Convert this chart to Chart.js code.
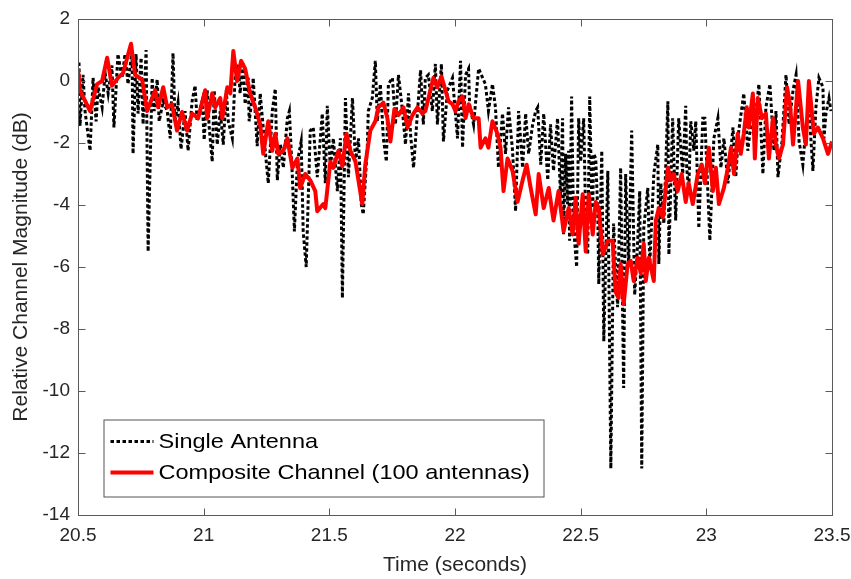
<!DOCTYPE html>
<html>
<head>
<meta charset="utf-8">
<script src="https://cdn.jsdelivr.net/npm/chart.js@4.4.1/dist/chart.umd.min.js"></script>
<style>
  html, body { margin: 0; padding: 0; background: #fff; }
  #wrap { width: 851px; height: 579px; }
</style>
</head>
<body>
<div id="wrap"><canvas id="chan" width="851" height="579"></canvas></div>
<script>
// time axis (s) and relative magnitude (dB)
var singleT = [
  20.504, 20.508, 20.520, 20.528, 20.548, 20.560, 20.572, 20.580, 20.596, 20.608,
  20.620, 20.635, 20.643, 20.659, 20.675, 20.687, 20.699, 20.715, 20.719, 20.731,
  20.739, 20.751, 20.759, 20.771, 20.779, 20.795, 20.803, 20.815, 20.823, 20.839,
  20.855, 20.867, 20.878, 20.886, 20.898, 20.910, 20.926, 20.938, 20.954, 20.966,
  20.974, 20.994, 21.002, 21.014, 21.022, 21.034, 21.042, 21.054, 21.066, 21.078,
  21.090, 21.098, 21.114, 21.125, 21.137, 21.145, 21.157, 21.165, 21.177, 21.181,
  21.193, 21.197, 21.213, 21.225, 21.245, 21.257, 21.273, 21.285, 21.293, 21.305,
  21.317, 21.333, 21.341, 21.353, 21.361, 21.373, 21.388, 21.396, 21.408, 21.424,
  21.436, 21.452, 21.472, 21.484, 21.492, 21.504, 21.516, 21.532, 21.544, 21.552,
  21.564, 21.576, 21.592, 21.604, 21.616, 21.627, 21.635, 21.651, 21.655, 21.671,
  21.683, 21.691, 21.703, 21.715, 21.727, 21.735, 21.751, 21.763, 21.775, 21.791,
  21.803, 21.815, 21.823, 21.835, 21.851, 21.863, 21.874, 21.882, 21.894, 21.910,
  21.922, 21.930, 21.946, 21.954, 21.970, 21.990, 22.010, 22.022, 22.030, 22.042,
  22.054, 22.058, 22.074, 22.094, 22.110, 22.121, 22.133, 22.149, 22.161, 22.173,
  22.189, 22.201, 22.213, 22.229, 22.241, 22.253, 22.269, 22.281, 22.293, 22.309,
  22.321, 22.329, 22.341, 22.353, 22.369, 22.380, 22.392, 22.408, 22.420, 22.428,
  22.432, 22.440, 22.448, 22.452, 22.456, 22.464, 22.472, 22.484, 22.492, 22.500,
  22.512, 22.520, 22.528, 22.536, 22.544, 22.548, 22.552, 22.560, 22.568, 22.572,
  22.584, 22.592, 22.608, 22.620, 22.631, 22.647, 22.659, 22.671, 22.679, 22.691,
  22.703, 22.715, 22.727, 22.735, 22.743, 22.751, 22.767, 22.775, 22.791, 22.807,
  22.811, 22.819, 22.831, 22.847, 22.851, 22.866, 22.878, 22.890, 22.906, 22.918,
  22.922, 22.930, 22.938, 22.946, 22.950, 22.958, 22.970, 22.986, 22.994, 23.014,
  23.030, 23.046, 23.058, 23.070, 23.086, 23.106, 23.117, 23.129, 23.149, 23.165,
  23.177, 23.189, 23.209, 23.225, 23.237, 23.253, 23.269, 23.277, 23.285, 23.301,
  23.317, 23.329, 23.345, 23.357, 23.369, 23.384, 23.396, 23.408, 23.424, 23.436,
  23.448, 23.464, 23.468, 23.476, 23.488, 23.496
];
var singleDb = [
  0.6, -1.45, 0.2, -0.97, -2.25, 0.1, -1.3, -0.2, -0.85, 0.25,
  -0.4, 0.5, -1.5, 0.87, 0.1, 0.87, -0.1, 1.0, -2.35, 0.87,
  -1.05, 0.75, -1.4, 1.0, -5.5, 0.1, -0.97, 0.05, -1.3, -0.65,
  -0.97, -1.85, 0.9, -1.3, -0.7, -2.2, -0.97, -2.25, -0.65, -0.15,
  -1.3, -0.65, -1.9, -0.3, -1.5, -2.6, -0.3, -2.05, -0.97, -2.05,
  -0.3, -1.3, -1.85, 0.1, 0.55, -0.4, 0.6, -0.75, 0.1, -1.3,
  -0.55, 0.1, -2.1, -0.4, -2.25, -3.3, -0.97, -0.25, -3.2, -2.05,
  -2.8, -1.2, -0.97, -3.1, -4.85, -2.6, -1.95, -4.85, -6.0, -1.6,
  -1.5, -3.1, -1.05, -3.3, -0.8, -2.8, -1.85, -3.55, -1.85, -7.0,
  -0.55, -3.1, -0.55, -2.6, -1.85, -3.97, -4.3, -2.15, -0.97, -0.55,
  0.65, -1.3, -0.1, -1.85, -2.6, -0.1, 0.1, -1.4, 0.2, -0.97,
  -2.05, -0.4, -1.7, -2.8, -0.97, 0.35, -1.4, 0.1, 0.2, -0.97,
  0.55, -1.4, 0.55, -1.95, -0.3, 0.1, -1.85, 0.65, -2.15, 0.2,
  0.4, -0.75, -1.4, 0.4, 0.1, -0.1, -0.97, -0.1, -0.85, -2.8,
  -1.05, -2.35, -0.85, -2.25, -4.2, -0.97, -2.8, -1.05, -2.35, -1.4,
  -0.97, -0.85, -2.7, -1.05, -3.2, -1.4, -2.9, -1.2, -3.77, -1.2,
  -4.95, -2.35, -3.97, -2.25, -5.15, -0.5, -4.75, -6.0, -1.2, -2.6,
  -1.2, -4.4, -5.6, -0.5, -3.77, -4.1, -2.35, -2.5, -4.2, -6.55,
  -2.25, -8.4, -2.9, -12.5, -4.6, -7.3, -2.8, -9.9, -3.0, -6.0,
  -1.6, -6.9, -5.15, -3.55, -12.5, -4.75, -3.45, -5.9, -3.0, -2.05,
  -5.9, -3.3, -4.6, -0.65, -5.6, -1.2, -4.5, -1.2, -3.0, -0.8,
  -2.8, -3.55, -1.3, -1.85, -2.25, -1.3, -4.75, -1.2, -1.2, -5.15,
  -1.85, -1.2, -2.8, -1.85, -3.3, -1.5, -3.1, -1.6, -0.4, -2.25,
  -1.4, -1.7, -0.1, -3.0, -0.85, -0.1, -2.25, -0.97, -3.1, -1.95,
  0.2, -1.4, -0.3, 0.2, -1.95, -2.7, -1.5, -0.85, -2.9, -0.85,
  0.1, -0.2, -1.85, -1.05, -0.55, -0.97
];

var compT = [
  20.500, 20.508, 20.548, 20.576, 20.596, 20.616, 20.635, 20.659, 20.679, 20.711,
  20.727, 20.755, 20.775, 20.795, 20.807, 20.819, 20.839, 20.855, 20.874, 20.894,
  20.914, 20.934, 20.954, 20.978, 21.006, 21.014, 21.034, 21.046, 21.066, 21.074,
  21.094, 21.106, 21.118, 21.133, 21.149, 21.165, 21.185, 21.205, 21.225, 21.237,
  21.257, 21.273, 21.285, 21.297, 21.317, 21.333, 21.353, 21.373, 21.384, 21.404,
  21.424, 21.444, 21.452, 21.476, 21.484, 21.504, 21.516, 21.536, 21.552, 21.568,
  21.584, 21.604, 21.631, 21.643, 21.663, 21.683, 21.695, 21.715, 21.731, 21.743,
  21.759, 21.775, 21.795, 21.811, 21.831, 21.851, 21.870, 21.882, 21.902, 21.914,
  21.930, 21.946, 21.962, 21.974, 21.990, 22.002, 22.014, 22.030, 22.042, 22.054,
  22.074, 22.094, 22.102, 22.121, 22.133, 22.149, 22.169, 22.181, 22.193, 22.209,
  22.229, 22.249, 22.269, 22.285, 22.301, 22.321, 22.333, 22.353, 22.373, 22.392,
  22.412, 22.432, 22.452, 22.468, 22.480, 22.492, 22.508, 22.520, 22.532, 22.548,
  22.560, 22.572, 22.588, 22.608, 22.627, 22.639, 22.651, 22.659, 22.671, 22.687,
  22.699, 22.711, 22.727, 22.739, 22.751, 22.759, 22.771, 22.791, 22.799, 22.811,
  22.827, 22.847, 22.859, 22.870, 22.886, 22.902, 22.918, 22.930, 22.946, 22.966,
  22.982, 22.994, 23.010, 23.026, 23.038, 23.050, 23.070, 23.086, 23.098, 23.110,
  23.125, 23.137, 23.149, 23.161, 23.169, 23.185, 23.193, 23.205, 23.221, 23.237,
  23.249, 23.265, 23.277, 23.289, 23.305, 23.321, 23.333, 23.345, 23.365, 23.384,
  23.396, 23.408, 23.428, 23.444, 23.464, 23.484, 23.500
];
var compDb = [
  0.38, -0.3, -0.97, -0.1, 0.0, 0.75, -0.15, 0.1, 0.25, 1.2,
  0.2, 0.05, -0.97, -0.55, -0.3, -0.85, -0.2, -0.85, -0.75, -1.6,
  -1.0, -1.6, -1.05, -1.2, -0.3, -1.2, -0.4, -0.85, -0.55, -1.2,
  -0.2, -0.4, 0.97, 0.0, 0.65, 0.4, -0.4, -0.85, -1.4, -2.35,
  -1.3, -2.25, -1.7, -2.35, -2.25, -1.85, -2.8, -2.5, -3.45, -3.0,
  -3.2, -3.55, -4.2, -3.97, -4.1, -2.6, -2.8, -2.25, -2.75, -1.7,
  -2.25, -2.6, -3.97, -2.7, -1.6, -1.3, -0.85, -0.7, -1.2, -1.95,
  -0.9, -1.1, -0.85, -1.5, -1.1, -0.85, -1.05, -0.97, -0.3, 0.1,
  -0.2, 0.15, -0.3, -0.65, -0.75, -0.97, -0.65, -0.5, -1.2, -0.75,
  -1.2, -1.2, -2.15, -1.85, -2.15, -1.3, -1.7, -2.15, -3.55, -2.5,
  -2.9, -3.9, -3.2, -2.7, -3.45, -4.3, -3.0, -4.1, -3.45, -4.5,
  -3.55, -4.85, -4.1, -4.95, -3.77, -5.25, -3.65, -5.5, -3.65, -4.95,
  -3.9, -4.1, -5.6, -5.15, -5.15, -6.8, -7.0, -5.9, -7.2, -5.9,
  -5.8, -6.45, -5.7, -6.2, -5.25, -6.45, -5.7, -6.45, -4.5, -4.1,
  -4.4, -2.8, -3.2, -3.0, -3.55, -3.0, -3.9, -3.3, -3.97, -3.0,
  -2.7, -3.3, -2.15, -3.55, -2.8, -3.97, -3.45, -2.8, -2.15, -3.0,
  -1.7, -2.35, -1.7, -0.85, -1.5, -0.4, -2.5, -0.55, -1.2, -1.05,
  -2.5, -1.2, -2.05, -2.5, -2.05, -0.2, -0.75, -2.05, 0.0, -1.5,
  -2.05, 0.0, -1.7, -1.5, -1.85, -2.35, -1.95
];

var xTicks = [20.5, 21, 21.5, 22, 22.5, 23, 23.5];
var yTicks = [-14, -12, -10, -8, -6, -4, -2, 0, 2];

function pairs(t, v) {
  var out = [];
  for (var i = 0; i < t.length; i++) {
    out.push({x: t[i], y: v[i]});
  }
  return out;
}

var FONT = "'Liberation Sans', Arial, Helvetica, sans-serif";
var INK = '#262626';
var AXIS = '#5a5a5a';

// box round the plot, inward ticks on all four sides, legend in the lower left
var framePlugin = {
  id: 'frame',
  afterDraw: function (chart) {
    var ctx = chart.ctx;
    var a = chart.chartArea;
    var sx = chart.scales.x, sy = chart.scales.y;
    var l = Math.round(a.left) + 0.5, r = Math.round(a.right) + 0.5;
    var t = Math.round(a.top) + 0.5, b = Math.round(a.bottom) + 0.5;
    ctx.save();
    ctx.strokeStyle = AXIS;
    ctx.lineWidth = 1;
    ctx.strokeRect(l, t, r - l, b - t);
    ctx.beginPath();
    xTicks.forEach(function (v) {
      var px = Math.round(sx.getPixelForValue(v)) + 0.5;
      ctx.moveTo(px, b); ctx.lineTo(px, b - 7);
      ctx.moveTo(px, t); ctx.lineTo(px, t + 7);
    });
    yTicks.forEach(function (v) {
      var py = Math.round(sy.getPixelForValue(v)) + 0.5;
      ctx.moveTo(l, py); ctx.lineTo(l + 7, py);
      ctx.moveTo(r, py); ctx.lineTo(r - 7, py);
    });
    ctx.stroke();

    // legend
    var lx = l + 25, ly = b - 96, lw = 440, lh = 77;
    ctx.fillStyle = '#fff';
    ctx.fillRect(lx, ly, lw, lh);
    ctx.strokeStyle = '#555';
    ctx.strokeRect(lx + 0.5, ly + 0.5, lw, lh);
    var sets = chart.data.datasets;
    var rows = [ly + 22, ly + 53];
    sets.forEach(function (ds, i) {
      ctx.beginPath();
      ctx.strokeStyle = ds.borderColor;
      ctx.lineWidth = ds.borderWidth;
      ctx.setLineDash(ds.borderDash || []);
      ctx.moveTo(lx + 7, rows[i]);
      ctx.lineTo(lx + 50, rows[i]);
      ctx.stroke();
      ctx.setLineDash([]);
      ctx.save();
      ctx.translate(lx + 55, rows[i] + 1);
      ctx.scale(1.12, 1);
      ctx.fillStyle = '#000';
      ctx.font = '21px ' + FONT;
      ctx.textBaseline = 'middle';
      ctx.fillText(ds.label, 0, 0);
      ctx.restore();
    });
    ctx.restore();
  }
};

new Chart(document.getElementById('chan'), {
  type: 'line',
  data: {
    datasets: [
      {
        label: 'Single Antenna',
        data: pairs(singleT, singleDb),
        borderColor: '#000000',
        borderWidth: 3,
        borderDash: [3.5, 2.5],
        borderCapStyle: 'butt',
        pointRadius: 0,
        tension: 0,
        order: 2
      },
      {
        label: 'Composite Channel (100 antennas)',
        data: pairs(compT, compDb),
        borderColor: '#ff0000',
        borderWidth: 4,
        borderJoinStyle: 'round',
        pointRadius: 0,
        tension: 0,
        order: 1
      }
    ]
  },
  options: {
    responsive: false,
    animation: false,
    events: [],
    layout: {
      padding: { left: 0, right: 19, top: 19, bottom: 0 }
    },
    plugins: {
      legend: { display: false },
      tooltip: { enabled: false }
    },
    scales: {
      x: {
        type: 'linear',
        min: 20.5,
        max: 23.5,
        afterBuildTicks: function (scale) {
          scale.ticks = xTicks.map(function (v) { return {value: v}; });
        },
        afterFit: function (scale) {
          scale.height = 64;
          scale.paddingLeft = 0;
          scale.paddingRight = 0;
        },
        grid: { display: false, drawTicks: false },
        border: { display: false },
        ticks: {
          color: INK,
          padding: 9,
          maxRotation: 0,
          font: { family: FONT, size: 19 },
          callback: function (v) { return String(v); }
        },
        title: {
          display: true,
          text: 'Time (seconds)',
          color: INK,
          padding: { top: 0, bottom: 1 },
          font: { family: FONT, size: 21 }
        }
      },
      y: {
        type: 'linear',
        min: -14,
        max: 2,
        afterBuildTicks: function (scale) {
          scale.ticks = yTicks.map(function (v) { return {value: v}; });
        },
        afterFit: function (scale) {
          scale.width = 78;
          scale.paddingTop = 0;
          scale.paddingBottom = 0;
        },
        grid: { display: false, drawTicks: false },
        border: { display: false },
        ticks: {
          color: INK,
          padding: 8,
          font: { family: FONT, size: 19 },
          callback: function (v) { return String(v); }
        },
        title: {
          display: true,
          text: 'Relative Channel Magnitude (dB)',
          color: INK,
          padding: { top: 9, bottom: 0 },
          font: { family: FONT, size: 21 }
        }
      }
    }
  },
  plugins: [framePlugin]
});
</script>
</body>
</html>
